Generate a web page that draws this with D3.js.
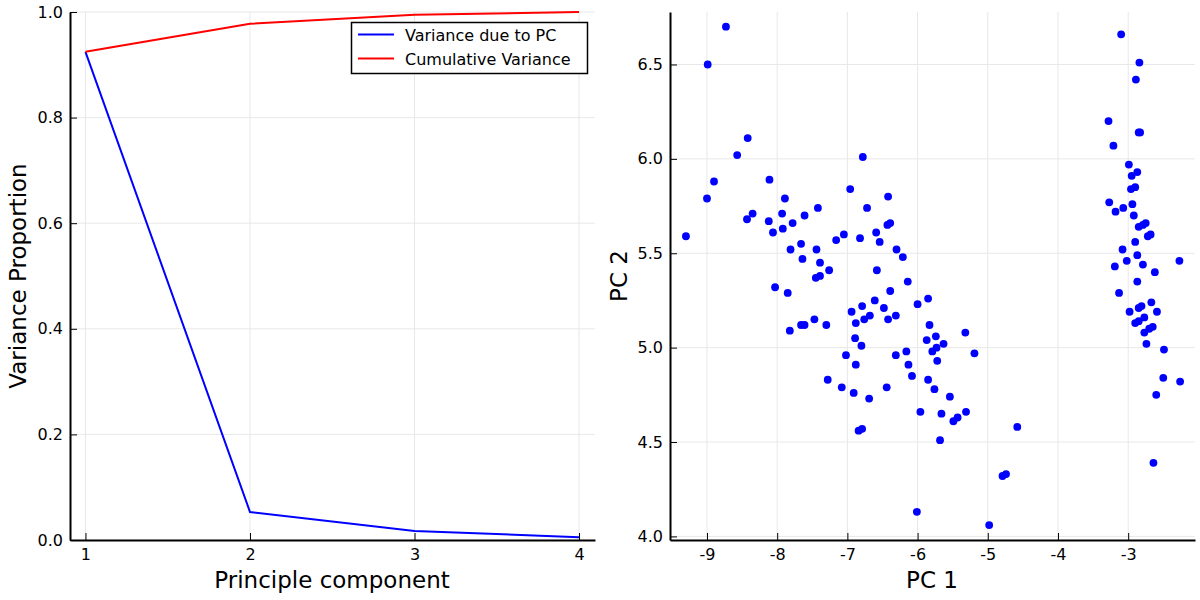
<!DOCTYPE html>
<html><head><meta charset="utf-8">
<script src="https://cdn.jsdelivr.net/npm/d3@7"></script>
<style>body{margin:0;background:#fff}svg{display:block}text{font-family:"DejaVu Sans",sans-serif}</style>
</head><body><svg id="c" width="1200" height="600"></svg>
<script>
const components = [1, 2, 3, 4];
const varianceDue = [0.9246, 0.0531, 0.0171, 0.0052];
const cumulativeVar = [0.9246, 0.9777, 0.9948, 1.0];
const yTicksLeft = [0.0, 0.2, 0.4, 0.6, 0.8, 1.0];
const pc1 = [
 -8.73,-8.99,-8.42,-8.57,-6.78,-8.90,-8.11,-6.96,
 -9.00,-7.89,-6.72,-8.43,-8.35,-8.12,-7.93,-7.61,-7.42,-7.78,-7.92,-8.06,-9.30,-7.16,-7.05,-6.82,-7.66,-7.81,-7.44,-7.64,-7.39,-7.26,-7.45,-7.39,-8.03,-7.85,-6.79,-6.94,-6.88,-6.76,-6.68,-7.47,-7.66,-7.61,-7.30,-7.82,-6.89,-6.80,-7.02,
 -6.42,-6.39,-6.43,-6.59,-6.54,-6.30,-6.21,-6.58,-6.14,-6.39,-5.85,-6.00,-6.61,-6.48,-6.42,-6.31,-5.83,-5.74,-5.87,-5.63,-5.32,-5.73,-5.79,-6.31,-6.16,-5.19,
 -6.88,-6.13,-5.72,-7.28,-7.08,-6.91,-6.69,-6.44,-6.08,-5.85,-5.76,-5.54,-5.96,-5.66,-5.49,-5.43,-5.31,-6.84,-6.79,-5.68,-4.58,-4.79,-4.74,-6.01,-4.98,
 -3.10,-2.84,-2.89,-3.28,-2.85,-2.83,-3.21,-2.99,-2.87,-2.95,-2.90,-2.96,
 -3.27,-3.18,-3.07,-2.94,-2.92,-2.85,-2.79,-2.75,-2.72,-2.68,-2.90,-3.08,-2.87,-3.02,-3.19,-2.79,-2.62,-2.27,-2.87,-3.13,-2.67,-2.85,-2.81,-2.98,-2.59,-2.77,-2.90,-2.85,-2.77,-2.70,-2.65,-2.74,-2.49,
 -2.50,-2.26,-2.60,-2.64
];
const pc2 = [
 6.70,6.50,6.11,6.02,6.01,5.88,5.89,5.84,
 5.79,5.79,5.74,5.68,5.71,5.67,5.71,5.70,5.74,5.66,5.63,5.61,5.59,5.57,5.60,5.58,5.55,5.52,5.52,5.47,5.45,5.41,5.37,5.38,5.32,5.29,5.22,5.19,5.13,5.15,5.17,5.15,5.12,5.12,5.12,5.09,5.05,5.01,4.96,
 5.80,5.66,5.65,5.61,5.56,5.52,5.48,5.41,5.35,5.30,5.26,5.23,5.25,5.21,5.15,5.17,5.12,5.06,5.04,5.02,5.08,5.00,4.98,4.96,4.98,4.97,
 4.91,4.91,4.93,4.83,4.79,4.76,4.73,4.79,4.85,4.83,4.78,4.74,4.66,4.65,4.61,4.63,4.66,4.56,4.57,4.51,4.58,4.32,4.33,4.13,4.06,
 6.66,6.51,6.42,6.20,6.14,6.14,6.07,5.97,5.93,5.91,5.85,5.84,
 5.77,5.72,5.74,5.76,5.70,5.64,5.65,5.66,5.59,5.60,5.56,5.52,5.49,5.46,5.43,5.44,5.40,5.46,5.35,5.29,5.24,5.21,5.22,5.19,5.19,5.16,5.13,5.14,5.08,5.10,5.11,5.02,4.99,
 4.84,4.82,4.75,4.39
];
const xTicksRight = [-9, -8, -7, -6, -5, -4, -3];
const yTicksRight = [4.0, 4.5, 5.0, 5.5, 6.0, 6.5];

const svg = d3.select("#c");
const gridCol = "#e8e8e8";
const tickFont = 16, titleFont = 23, legendFont = 16;

function styleAxis(a) {
  a.select(".domain").attr("stroke", "#000").attr("stroke-width", 2);
  a.selectAll(".tick line").attr("stroke", "#000").attr("stroke-width", 1);
  a.selectAll(".tick text").attr("font-size", tickFont).attr("fill", "#000").style("font-family", "DejaVu Sans");
}

// LEFT PANEL
const L = {x0: 70, x1: 595, y0: 12, y1: 540};
const xL = d3.scaleLinear().domain([0.906, 4.097]).range([L.x0, L.x1]);
const yL = d3.scaleLinear().domain([0, 1.0]).range([L.y1, L.y0]);
const gL = svg.append("g");
gL.append("g").selectAll("line").data(components).join("line")
  .attr("x1", d => xL(d)).attr("x2", d => xL(d)).attr("y1", L.y0).attr("y2", L.y1)
  .attr("stroke", gridCol).attr("stroke-width", 1);
gL.append("g").selectAll("line").data(yTicksLeft).join("line")
  .attr("x1", L.x0).attr("x2", L.x1).attr("y1", d => yL(d)).attr("y2", d => yL(d))
  .attr("stroke", gridCol).attr("stroke-width", 1);

const line = d3.line().x((d, i) => xL(components[i])).y(d => yL(d));
gL.append("path").datum(varianceDue).attr("d", line).attr("fill", "none").attr("stroke", "#0000ff").attr("stroke-width", 2);
gL.append("path").datum(cumulativeVar).attr("d", line).attr("fill", "none").attr("stroke", "#ff0000").attr("stroke-width", 2);

styleAxis(gL.append("g").attr("transform", `translate(0,${L.y1})`)
  .call(d3.axisBottom(xL).tickValues(components).tickFormat(d3.format("d")).tickSizeInner(-7).tickSizeOuter(0).tickPadding(9)));
styleAxis(gL.append("g").attr("transform", `translate(${L.x0},0)`)
  .call(d3.axisLeft(yL).tickValues(yTicksLeft).tickFormat(d3.format(".1f")).tickSizeInner(-7).tickSizeOuter(0).tickPadding(7)));
gL.append("text").attr("x", 332).attr("y", 588).attr("text-anchor", "middle").attr("font-size", titleFont).text("Principle component");
gL.append("text").attr("transform", "translate(26,276) rotate(-90)").attr("text-anchor", "middle").attr("font-size", titleFont).text("Variance Proportion");

// legend
const lg = gL.append("g");
lg.append("rect").attr("x", 351.5).attr("y", 22.5).attr("width", 236).attr("height", 51).attr("fill", "#fff").attr("stroke", "#000").attr("stroke-width", 1.5);
const legendItems = [["Variance due to PC", "#0000ff"], ["Cumulative Variance", "#ff0000"]];
legendItems.forEach((it, i) => {
  const y = 34.5 + i * 24;
  lg.append("line").attr("x1", 358).attr("x2", 394).attr("y1", y).attr("y2", y).attr("stroke", it[1]).attr("stroke-width", 2);
  lg.append("text").attr("x", 405).attr("y", y + 6).attr("font-size", legendFont).text(it[0]);
});

// RIGHT PANEL
const R = {x0: 670, x1: 1195, y0: 12, y1: 540};
const xR = d3.scaleLinear().domain([-9.527, -2.048]).range([R.x0, R.x1]);
const yR = d3.scaleLinear().domain([3.981, 6.778]).range([R.y1, R.y0]);
const gR = svg.append("g");
gR.append("g").selectAll("line").data(xTicksRight).join("line")
  .attr("x1", d => xR(d)).attr("x2", d => xR(d)).attr("y1", R.y0).attr("y2", R.y1)
  .attr("stroke", gridCol).attr("stroke-width", 1);
gR.append("g").selectAll("line").data(yTicksRight).join("line")
  .attr("x1", R.x0).attr("x2", R.x1).attr("y1", d => yR(d)).attr("y2", d => yR(d))
  .attr("stroke", gridCol).attr("stroke-width", 1);
gR.append("g").selectAll("circle").data(pc1).join("circle")
  .attr("cx", d => xR(d)).attr("cy", (d, i) => yR(pc2[i])).attr("r", 3.9).attr("fill", "#0000ff");

const axRx = gR.append("g").attr("transform", `translate(0,${R.y1})`)
  .call(d3.axisBottom(xR).tickValues(xTicksRight).tickFormat(d3.format("d")).tickSizeInner(-7).tickSizeOuter(0).tickPadding(9));
styleAxis(axRx);
axRx.selectAll(".tick text").text(d => String(d));
styleAxis(gR.append("g").attr("transform", `translate(${R.x0},0)`)
  .call(d3.axisLeft(yR).tickValues(yTicksRight).tickFormat(d3.format(".1f")).tickSizeInner(-7).tickSizeOuter(0).tickPadding(7)));
gR.append("text").attr("x", 932).attr("y", 588).attr("text-anchor", "middle").attr("font-size", titleFont).text("PC 1");
gR.append("text").attr("transform", "translate(627,276) rotate(-90)").attr("text-anchor", "middle").attr("font-size", titleFont).text("PC 2");
</script></body></html>
